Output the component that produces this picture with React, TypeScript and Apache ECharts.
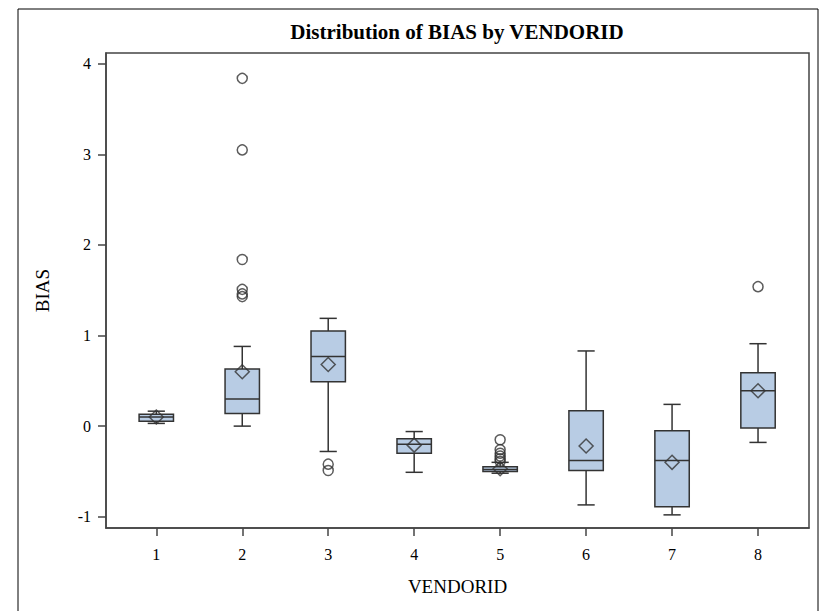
import React, { useEffect, useRef } from "react";
import * as echarts from "echarts";

const vendorIds = [1, 2, 3, 4, 5, 6, 7, 8];
const whiskerLow = [0.03, 0.0, -0.28, -0.51, -0.52, -0.87, -0.98, -0.18];
const q1 = [0.055, 0.14, 0.49, -0.3, -0.5, -0.49, -0.89, -0.02];
const median = [0.1, 0.3, 0.77, -0.2, -0.48, -0.38, -0.38, 0.39];
const q3 = [0.13, 0.63, 1.05, -0.14, -0.45, 0.17, -0.05, 0.59];
const whiskerHigh = [0.165, 0.88, 1.19, -0.06, -0.4, 0.83, 0.24, 0.91];
const means = [0.1, 0.6, 0.68, -0.21, -0.47, -0.22, -0.4, 0.39];
const outlierVendor = [2, 2, 2, 2, 2, 2, 3, 3, 5, 5, 5, 5, 5, 5, 8];
const outlierValue = [3.84, 3.05, 1.84, 1.51, 1.46, 1.43, -0.42, -0.49, -0.15, -0.26, -0.3, -0.33, -0.36, -0.39, 1.54];
const yTicks = [-1, 0, 1, 2, 3, 4];

const FONT = "'Liberation Serif', 'DejaVu Serif', serif";
const LINE = "#333333";
const FILL = "#b8cce4";

export default function App() {
  const ref = useRef<HTMLDivElement>(null);
  useEffect(() => {
    if (!ref.current) return;
    const chart = echarts.init(ref.current, null, { renderer: "svg" });
    const boxData = vendorIds.map((v, i) => [v, whiskerLow[i], q1[i], median[i], q3[i], whiskerHigh[i]]);
    chart.setOption({
      animation: false,
      backgroundColor: "#ffffff",
      graphic: [
        {
          type: "rect",
          shape: { x: 18, y: 9, width: 800, height: 620 },
          style: { fill: "none", stroke: "#000", lineWidth: 1 },
          silent: true,
        },
        {
          type: "text",
          x: 457,
          y: 32,
          style: {
            text: "Distribution of BIAS by VENDORID",
            font: `bold 21px ${FONT}`,
            fill: "#000",
            textAlign: "center",
            textVerticalAlign: "middle",
          },
        },
      ],
      grid: {
        left: 106,
        right: 16,
        top: 53,
        bottom: 83,
        show: true,
        borderColor: "#444",
        borderWidth: 1.5,
        backgroundColor: "transparent",
      },
      xAxis: {
        type: "value",
        min: 0.415,
        max: 8.593,
        name: "VENDORID",
        nameLocation: "middle",
        nameGap: 49,
        nameTextStyle: { fontFamily: FONT, fontSize: 19, color: "#000" },
        splitLine: { show: false },
        axisLine: { show: true, onZero: false, lineStyle: { color: "#444", width: 1.5 } },
        axisTick: { show: true, length: 8, customValues: vendorIds, lineStyle: { color: "#444", width: 1.5 } },
        axisLabel: { customValues: vendorIds, fontFamily: FONT, fontSize: 16, color: "#000", margin: 18 },
      },
      yAxis: {
        type: "value",
        min: -1.125,
        max: 4.12,
        name: "BIAS",
        nameLocation: "middle",
        nameGap: 54,
        nameTextStyle: { fontFamily: FONT, fontSize: 19, color: "#000" },
        splitLine: { show: false },
        axisLine: { show: true, onZero: false, lineStyle: { color: "#444", width: 1.5 } },
        axisTick: { show: true, length: 8, customValues: yTicks, lineStyle: { color: "#444", width: 1.5 } },
        axisLabel: { customValues: yTicks, fontFamily: FONT, fontSize: 16, color: "#000", margin: 15 },
      },
      series: [
        {
          type: "custom",
          data: boxData,
          encode: { x: 0, y: [1, 2, 3, 4, 5] },
          renderItem: (params: any, api: any) => {
            const x = api.value(0);
            const pLo = api.coord([x, api.value(1)]);
            const pQ1 = api.coord([x, api.value(2)]);
            const pMed = api.coord([x, api.value(3)]);
            const pQ3 = api.coord([x, api.value(4)]);
            const pHi = api.coord([x, api.value(5)]);
            const unit = api.size([1, 0])[0];
            const bw = unit * 0.4;
            const cw = unit * 0.2;
            const cx = pMed[0];
            const ls = { stroke: LINE, lineWidth: 1.5 };
            return {
              type: "group",
              children: [
                { type: "line", shape: { x1: cx, y1: pQ3[1], x2: cx, y2: pHi[1] }, style: ls },
                { type: "line", shape: { x1: cx, y1: pQ1[1], x2: cx, y2: pLo[1] }, style: ls },
                { type: "line", shape: { x1: cx - cw / 2, y1: pHi[1], x2: cx + cw / 2, y2: pHi[1] }, style: ls },
                { type: "line", shape: { x1: cx - cw / 2, y1: pLo[1], x2: cx + cw / 2, y2: pLo[1] }, style: ls },
                {
                  type: "rect",
                  shape: { x: cx - bw / 2, y: pQ3[1], width: bw, height: pQ1[1] - pQ3[1] },
                  style: { fill: FILL, stroke: LINE, lineWidth: 1.5 },
                },
                { type: "line", shape: { x1: cx - bw / 2, y1: pMed[1], x2: cx + bw / 2, y2: pMed[1] }, style: ls },
              ],
            };
          },
          z: 2,
        },
        {
          type: "scatter",
          data: vendorIds.map((v, i) => [v, means[i]]),
          symbol: "diamond",
          symbolSize: 14,
          itemStyle: { color: "transparent", borderColor: LINE, borderWidth: 1.5 },
          z: 3,
        },
        {
          type: "scatter",
          data: outlierVendor.map((v, i) => [v, outlierValue[i]]),
          symbol: "circle",
          symbolSize: 10,
          itemStyle: { color: "transparent", borderColor: LINE, borderWidth: 1.5 },
          z: 3,
        },
      ],
    });
    return () => chart.dispose();
  }, []);
  return (
    <div
      ref={ref}
      style={{ position: "absolute", left: 0, top: 0, width: 825, height: 611 }}
    />
  );
}
